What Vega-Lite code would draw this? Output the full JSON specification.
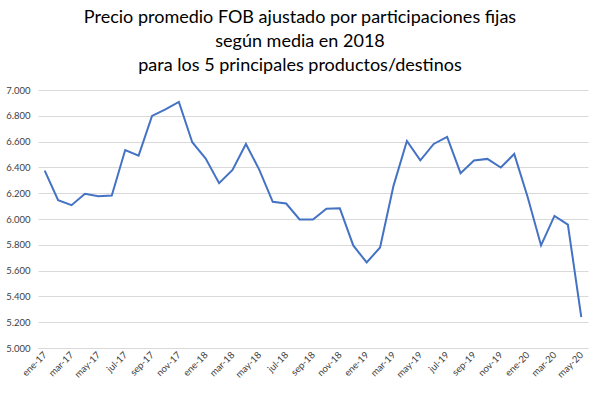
{
  "$schema": "https://vega.github.io/schema/vega-lite/v6.json",
  "autosize": {"type": "none"},
  "width": 550,
  "height": 258,
  "padding": {"left": 38, "top": 90, "right": 12, "bottom": 45},
  "background": "white",
  "title": {
    "text": ["Precio promedio FOB ajustado por participaciones fijas", "según media en 2018", "para los 5 principales productos/destinos"],
    "font": "Lato",
    "fontSize": 18,
    "fontWeight": "normal",
    "color": "#000000",
    "lineHeight": 24,
    "anchor": "middle",
    "offset": 10,
    "dx": -13
  },
  "data": {
    "values": [
      {"mes": "ene-17", "v": 6375}, {"mes": "feb-17", "v": 6146}, {"mes": "mar-17", "v": 6107},
      {"mes": "abr-17", "v": 6195}, {"mes": "may-17", "v": 6177}, {"mes": "jun-17", "v": 6182},
      {"mes": "jul-17", "v": 6535}, {"mes": "ago-17", "v": 6491}, {"mes": "sep-17", "v": 6799},
      {"mes": "oct-17", "v": 6850}, {"mes": "nov-17", "v": 6907}, {"mes": "dic-17", "v": 6595},
      {"mes": "ene-18", "v": 6468}, {"mes": "feb-18", "v": 6278}, {"mes": "mar-18", "v": 6381},
      {"mes": "abr-18", "v": 6582}, {"mes": "may-18", "v": 6381}, {"mes": "jun-18", "v": 6133},
      {"mes": "jul-18", "v": 6120}, {"mes": "ago-18", "v": 5996}, {"mes": "sep-18", "v": 5996},
      {"mes": "oct-18", "v": 6079}, {"mes": "nov-18", "v": 6083}, {"mes": "dic-18", "v": 5795},
      {"mes": "ene-19", "v": 5663}, {"mes": "feb-19", "v": 5779}, {"mes": "mar-19", "v": 6257},
      {"mes": "abr-19", "v": 6605}, {"mes": "may-19", "v": 6455}, {"mes": "jun-19", "v": 6582},
      {"mes": "jul-19", "v": 6636}, {"mes": "ago-19", "v": 6355}, {"mes": "sep-19", "v": 6453},
      {"mes": "oct-19", "v": 6466}, {"mes": "nov-19", "v": 6399}, {"mes": "dic-19", "v": 6504},
      {"mes": "ene-20", "v": 6170}, {"mes": "feb-20", "v": 5795}, {"mes": "mar-20", "v": 6024},
      {"mes": "abr-20", "v": 5957}, {"mes": "may-20", "v": 5240}
    ]
  },
  "mark": {"type": "line", "color": "#4472C4", "strokeWidth": 2},
  "encoding": {
    "x": {
      "field": "mes",
      "type": "ordinal",
      "sort": null,
      "scale": {"type": "point", "padding": 0.5},
      "axis": {
        "title": null,
        "values": ["ene-17","mar-17","may-17","jul-17","sep-17","nov-17","ene-18","mar-18","may-18","jul-18","sep-18","nov-18","ene-19","mar-19","may-19","jul-19","sep-19","nov-19","ene-20","mar-20","may-20"],
        "labelAngle": -45,
        "labelAlign": "right",
        "labelBaseline": "middle",
        "labelFont": "Lato",
        "labelFontSize": 9.5,
        "labelColor": "#404040",
        "labelPadding": 5,
        "ticks": false,
        "domain": true,
        "domainColor": "#d9d9d9",
        "grid": false
      }
    },
    "y": {
      "field": "v",
      "type": "quantitative",
      "scale": {"domain": [5000, 7000], "nice": false, "zero": false},
      "axis": {
        "title": null,
        "values": [5000, 5200, 5400, 5600, 5800, 6000, 6200, 6400, 6600, 6800, 7000],
        "labelExpr": "replace(format(datum.value, ','), ',', '.')",
        "labelFont": "Lato",
        "labelFontSize": 9.5,
        "labelColor": "#404040",
        "labelPadding": 8,
        "ticks": false,
        "domain": false,
        "grid": true,
        "gridColor": "#d9d9d9",
        "gridWidth": 1
      }
    }
  },
  "config": {"view": {"stroke": null}}
}
